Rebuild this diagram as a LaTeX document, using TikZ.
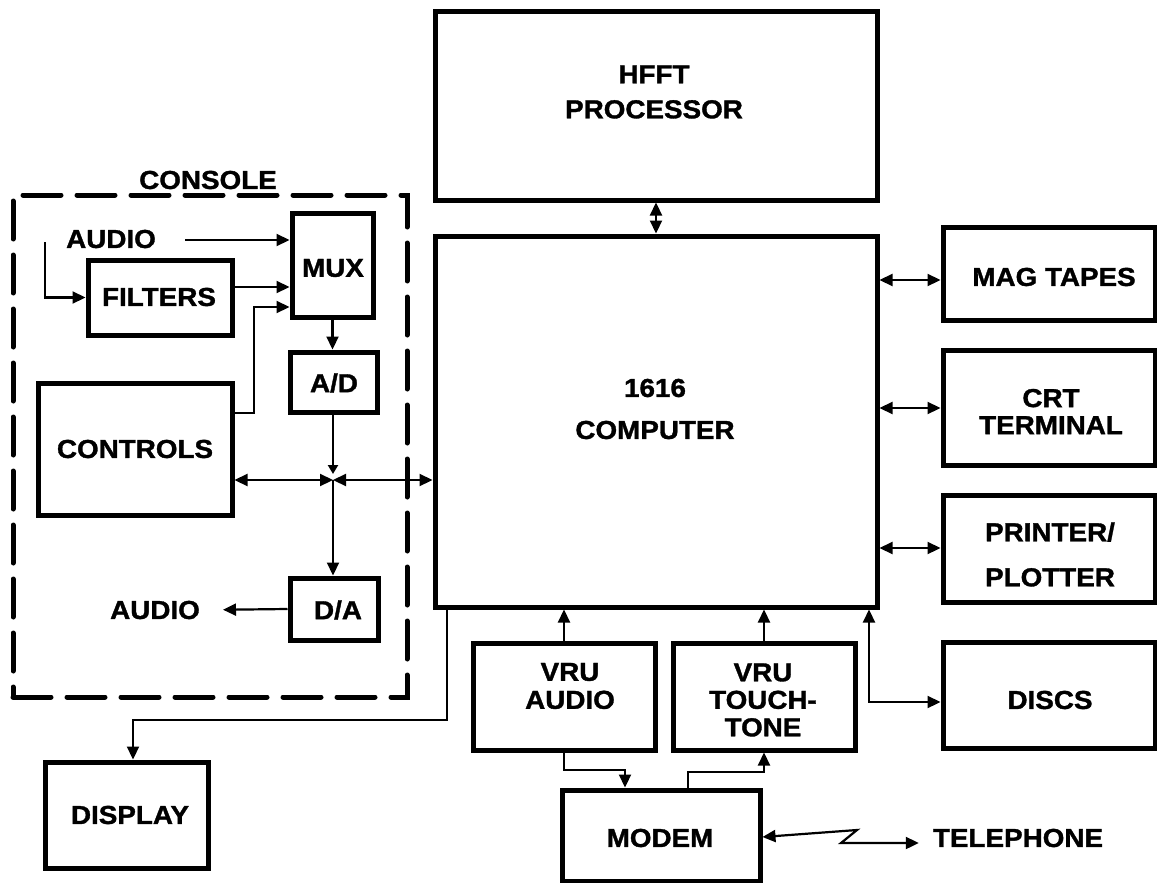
\documentclass[tikz,border=0pt]{standalone}
\usepackage{fontspec}
\setmainfont{Liberation Sans}[FakeStretch=1.07, BoldFeatures={FakeBold=1.3}]
\usetikzlibrary{arrows.meta}
\begin{document}
\begin{tikzpicture}[x=1pt,y=-1pt,
  box/.style={draw, line width=5pt, inner sep=0pt},
  dbox/.style={draw, line width=5pt, inner sep=0pt, dash pattern=on 38pt off 16pt, line cap=round},
  lbl/.style={font=\bfseries\fontsize{26}{28}\selectfont, align=center, inner sep=2pt},
  arr/.style={line width=2.2pt, -{Triangle[length=13pt,width=12pt]}},
  dbl/.style={line width=2.2pt, {Triangle[length=13pt,width=12pt]}-{Triangle[length=13pt,width=12pt]}},
  sarr/.style={line width=2.2pt, -{Triangle[length=9pt,width=10pt]}, shorten >=6pt},
]
\fill[white] (0,0) rectangle (1157,883);
\useasboundingbox (0,0) rectangle (1157,883);

% main boxes
\node[box, minimum width=442pt, minimum height=188pt] (hfft) at (656,106) {};
\node[box, minimum width=442pt, minimum height=371pt] (comp) at (656,421.5) {};
\node[box, minimum width=212pt, minimum height=93pt] (mag) at (1049,273.5) {};
\node[box, minimum width=212pt, minimum height=115pt] (crt) at (1049,407.5) {};
\node[box, minimum width=212pt, minimum height=107pt] (prn) at (1049,548.5) {};
\node[box, minimum width=212pt, minimum height=106pt] (disc) at (1049,695) {};
\node[box, minimum width=182pt, minimum height=107pt] (vrua) at (564,696.5) {};
\node[box, minimum width=182pt, minimum height=107pt] (vrut) at (764,696.5) {};
\node[box, minimum width=198pt, minimum height=91pt] (modem) at (661,835.5) {};
\node[box, minimum width=163pt, minimum height=106pt] (disp) at (126.5,815) {};

% console
\node[dbox, minimum width=394pt, minimum height=502pt] (console) at (210,446) {};
\node[box, minimum width=144pt, minimum height=75pt] (filt) at (160,297.5) {};
\node[box, minimum width=81pt, minimum height=104pt] (mux) at (332.5,265) {};
\node[box, minimum width=87pt, minimum height=60pt] (ad) at (333.5,382) {};
\node[box, minimum width=194pt, minimum height=132pt] (ctl) at (135,449) {};
\node[box, minimum width=88pt, minimum height=62pt] (da) at (334,609) {};

% labels
\node[lbl] (hfftT) at (654,92) {HFFT\\[7pt]PROCESSOR};
\node[lbl] (compT) at (655,409) {1616\\[14pt]COMPUTER};
\node[lbl] (magT) at (1054,277) {MAG TAPES};
\node[lbl] (crtT) at (1051,411.5) {CRT\\[-1pt]TERMINAL};
\node[lbl] (prnT) at (1050,554.5) {PRINTER/\\[17pt]PLOTTER};
\node[lbl] (discT) at (1050,700) {DISCS};
\node[lbl] (vruaT) at (570,686) {VRU\\AUDIO};
\node[lbl] (vrutT) at (763,700) {VRU\\[-0.5pt]TOUCH-\\[-0.5pt]TONE};
\node[lbl] (modemT) at (660,838) {MODEM};
\node[lbl] (tel) at (1018,838) {TELEPHONE};
\node[lbl] (dispT) at (130,815) {DISPLAY};
\node[lbl] (consT) at (208,180) {CONSOLE};
\node[lbl] (audin) at (111,239) {AUDIO};
\node[lbl] (filtT) at (159,297) {FILTERS};
\node[lbl] (muxT) at (333,268) {MUX};
\node[lbl] (adT) at (334,383) {A/D};
\node[lbl] (ctlT) at (135,449) {CONTROLS};
\node[lbl] (daT) at (338,610) {D/A};
\node[lbl] (audout) at (155,610) {AUDIO};

% helper coordinates
\coordinate (magY) at (0,280);
\coordinate (crtY) at (0,408);
\coordinate (prnY) at (0,548);
\coordinate (dscK) at (869,702);
\coordinate (vm) at (625,770);
\coordinate (mv) at (688,772);
\coordinate (z1) at (857,830);
\coordinate (z2) at (841,843);
\coordinate (dk) at (447,720);
\coordinate (dk2) at (133,720);
\coordinate (ai) at (185,240);
\coordinate (af) at (45,242);
\coordinate (fy) at (0,287);
\coordinate (cm) at (254,413);
\coordinate (my) at (0,307);
\coordinate (jn) at (333,480);

% computer connections
\draw[dbl] (hfft.south) -- (comp.north);
\draw[dbl] (comp.east |- magY) -- (mag.west |- magY);
\draw[dbl] (comp.east |- crtY) -- (crt.west |- crtY);
\draw[dbl] (comp.east |- prnY) -- (prn.west |- prnY);
\draw[dbl] (comp.south -| dscK) |- (disc.west |- dscK);
\draw[arr] (vrua.north) -- (vrua.north |- comp.south);
\draw[arr] (vrut.north) -- (vrut.north |- comp.south);
\draw[arr] (vrua.south) |- (vm) -- (modem.north -| vm);
\draw[arr] (modem.north -| mv) |- (vrut.south |- mv) -- (vrut.south);
\draw[dbl, shorten >=12pt] (modem.east |- 0,837) -- (z1) -- (z2) -- (tel.west |- z2);
\draw[arr] (comp.south -| dk) -- (dk) -- (dk2) -- (disp.north -| dk2);

% console connections
\draw[arr] (ai) -- (mux.west |- ai);
\draw[arr] (af) |- (filt.west);
\draw[arr] (filt.east |- fy) -- (mux.west |- fy);
\draw[arr] (ctl.east |- cm) -- (cm) |- (mux.west |- my);
\draw[arr] (mux.south) -- (mux.south |- ad.north);
\draw[sarr] (ad.south -| jn) -- (jn);
\draw[arr] (jn) -- (da.north -| jn);
\draw[dbl] (ctl.east |- jn) -- (jn);
\draw[dbl] (jn) -- (comp.west |- jn);
\draw[arr, shorten >=21pt] (da.west) -- (audout.east);
\end{tikzpicture}
\end{document}
